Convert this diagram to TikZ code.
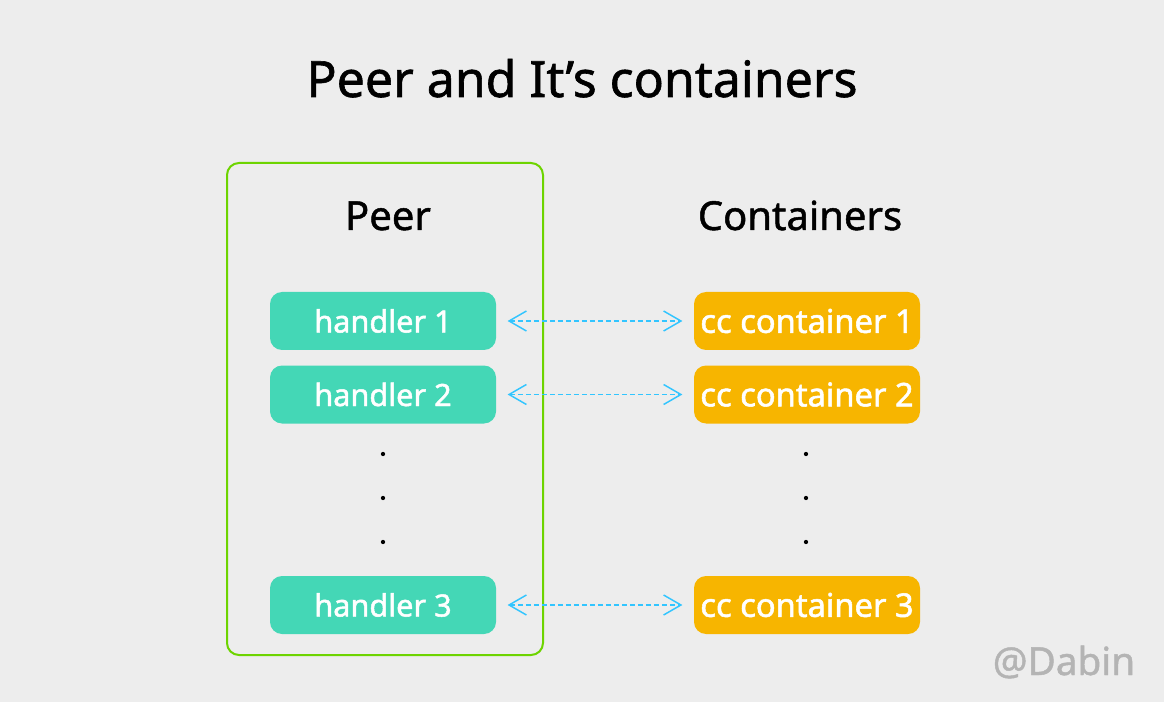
\documentclass[tikz,border=0pt]{standalone}
\usepackage{fontspec}
\setmainfont{Noto Sans}
\newfontfamily\medfont[FakeBold=1.2]{Noto Sans}
\newfontfamily\boxfont[FakeBold=1.6]{Noto Sans}
\usetikzlibrary{arrows.meta}
\definecolor{bg}{RGB}{237,237,237}
\definecolor{peergreen}{HTML}{6DD400}
\definecolor{teal}{HTML}{44D7B6}
\definecolor{amber}{HTML}{F7B500}
\definecolor{skyblue}{HTML}{32C5FF}
\definecolor{wmgray}{RGB}{180,180,180}
\tikzset{
  handlerbox/.style={draw=none,fill=teal,rounded corners=9pt,minimum width=169.5pt,minimum height=43.5pt,inner sep=0pt,text=white,font=\boxfont\fontsize{23}{26}\selectfont},
  ccbox/.style={draw=none,fill=amber,rounded corners=9pt,minimum width=169.5pt,minimum height=43.5pt,inner sep=0pt,text=white,font=\boxfont\fontsize{24.5}{27}\selectfont},
  heading/.style={font=\medfont\fontsize{30}{34}\selectfont,anchor=base,inner sep=0pt},
  link/.style={draw=skyblue,line width=1.1pt,dash pattern=on 4pt off 2pt,{Straight Barb[length=13pt,width=15pt]}-{Straight Barb[length=13pt,width=15pt]},shorten <=8.5pt,shorten >=8.5pt},
  dotmark/.style={circle,fill=black,inner sep=0pt,minimum size=3.2pt}
}
\begin{document}
\begin{tikzpicture}[x=0.75pt,y=-0.75pt]
\fill[bg] (0,0) rectangle (1164,702);
\useasboundingbox (0,0) rectangle (1164,702);
\node[anchor=base,inner sep=0pt,font=\medfont\fontsize{37.5}{40}\selectfont] (title) at (582,97) {Peer and It’s containers};
\node[draw=peergreen,line width=1.5pt,rounded corners=9pt,minimum width=237pt,minimum height=369pt,inner sep=0pt] (peerbox) at (385,409) {};
\node[heading] (peerlbl) at (388,230) {Peer};
\node[heading] (contlbl) at (800,230) {Containers};
\node[handlerbox] (h1) at (383,321) {handler 1};
\node[handlerbox] (h2) at (383,394.5) {handler 2};
\node[handlerbox] (h3) at (383,605) {handler 3};
\node[ccbox] (c1) at (807,321) {cc container 1};
\node[ccbox] (c2) at (807,394.5) {cc container 2};
\node[ccbox] (c3) at (807,605) {cc container 3};
\draw[link] (h1) -- (c1);
\draw[link] (h2) -- (c2);
\draw[link] (h3) -- (c3);
\node[dotmark] (d1) at (383,454) {};
\node[dotmark] (d2) at (383,498) {};
\node[dotmark] (d3) at (383,542) {};
\node[dotmark] (e1) at (806,454) {};
\node[dotmark] (e2) at (806,498) {};
\node[dotmark] (e3) at (806,542) {};
\node[anchor=base,inner sep=0pt,text=wmgray,font=\medfont\fontsize{29}{32}\selectfont] (wm) at (1064,675) {@Dabin};
\end{tikzpicture}
\end{document}
